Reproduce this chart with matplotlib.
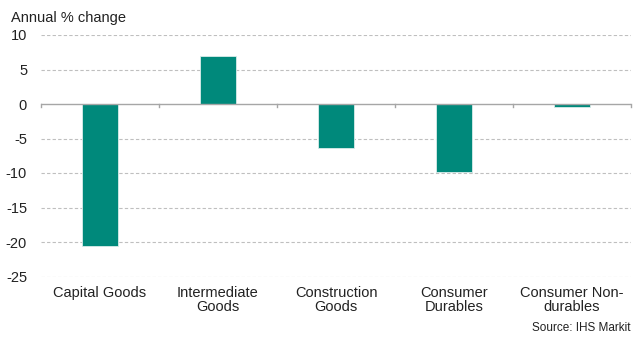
import matplotlib
matplotlib.use("Agg")
import matplotlib.pyplot as plt
import numpy as np

categories = ["Capital Goods", "Intermediate\nGoods", "Construction\nGoods", "Consumer\nDurables", "Consumer Non-\ndurables"]
values = [-20.6, 7.0, -6.4, -9.8, -0.4]
yticks = [10, 5, 0, -5, -10, -15, -20, -25]

plt.rcParams['font.family'] = ['Liberation Sans', 'DejaVu Sans']
fig = plt.figure(figsize=(6.33, 3.40), dpi=100)
ax = fig.add_axes([41/633, 1-276.5/340, 590/633, (276.5-35)/340])

x = np.arange(len(categories))
ax.bar(x, values, width=0.31, color="#00897B", edgecolor="#d9ecea", linewidth=0.6, zorder=3)

ax.set_ylim(-25, 10)
ax.set_xlim(-0.5, len(categories)-0.5)
ax.set_yticks(yticks)
ax.set_yticklabels([str(v) for v in yticks], fontsize=10.5, color="#222222")
ax.tick_params(axis='y', length=0, pad=10)
for v in yticks:
    if v != 0:
        ax.axhline(v, color="#bfbfbf", linestyle=(0, (3, 2)), linewidth=0.8, zorder=1)
ax.axhline(0, color="#a6a6a6", linewidth=1.0, zorder=4)
for s in ax.spines.values():
    s.set_visible(False)

# category boundary ticks on zero line
ax.set_xticks([])
for b in np.arange(-0.5, len(categories), 1.0):
    ax.plot([b, b], [0, -0.5], color="#a6a6a6", linewidth=1.0, zorder=4, clip_on=False)

for i, c in enumerate(categories):
    ax.annotate(c, xy=(i, -25), xytext=(0, -7), textcoords="offset points",
                ha="center", va="top", fontsize=10.5, color="#222222", linespacing=1.0,
                annotation_clip=False)

fig.text(11/633, 1-18/340, "Annual % change", fontsize=10.5, color="#222222", va="center", ha="left")
fig.text(631/633, 1-334/340, "Source: IHS Markit", fontsize=8.5, color="#222222", va="bottom", ha="right")

fig.savefig("out.png", dpi=100)
